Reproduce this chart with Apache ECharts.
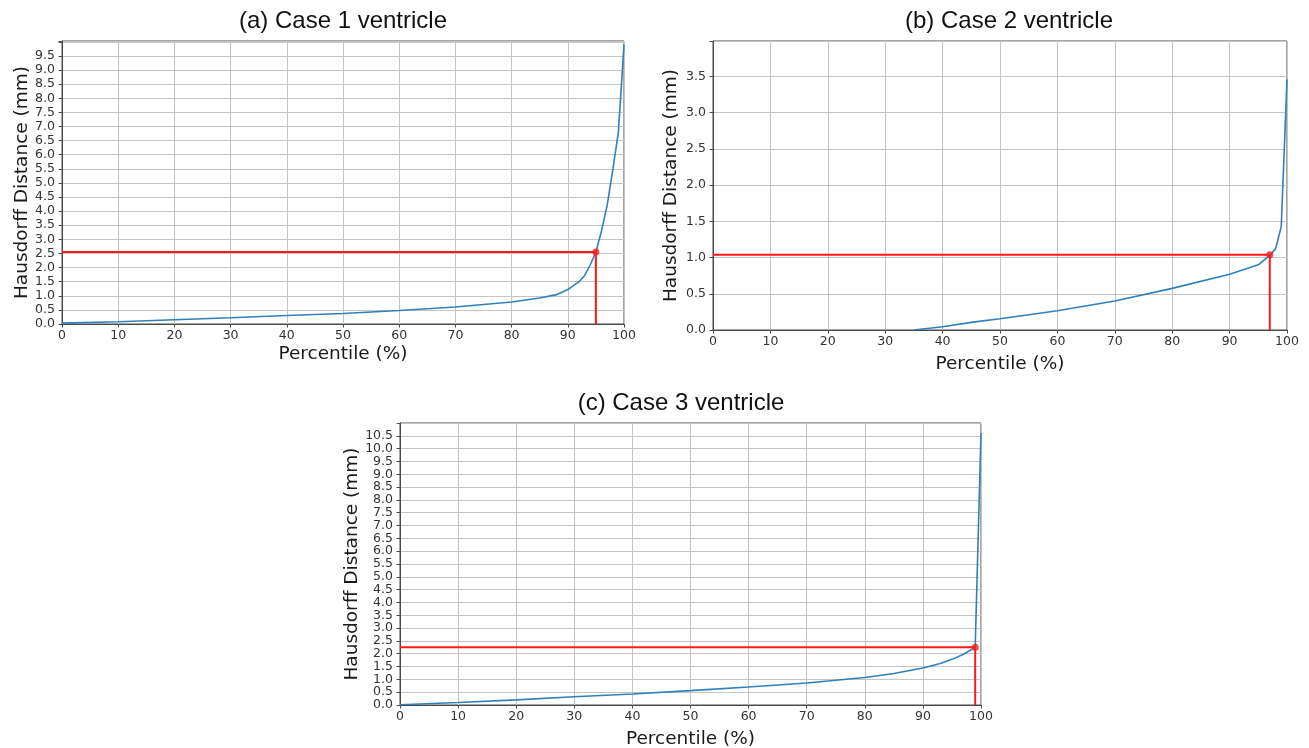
<!DOCTYPE html>
<html>
<head>
<meta charset="utf-8">
<script src="https://cdn.jsdelivr.net/npm/echarts@6/dist/echarts.min.js"></script>
<style>
html,body{margin:0;padding:0;background:#fff;}
#chart{width:1309px;height:748px;}
</style>
</head>
<body>
<div id="chart"></div>
<script>
// ---- Data ----
const titles = ['(a) Case 1 ventricle', '(b) Case 2 ventricle', '(c) Case 3 ventricle'];
const xName = 'Percentile (%)';
const yName = 'Hausdorff Distance (mm)';

const pctA = [0, 10, 20, 30, 40, 50, 60, 70, 80, 85, 88, 90, 92, 93, 94, 95, 96, 97, 98, 99, 100];
const hdA  = [0.03, 0.08, 0.15, 0.22, 0.3, 0.37, 0.48, 0.6, 0.78, 0.92, 1.04, 1.22, 1.5, 1.72, 2.1, 2.55, 3.3, 4.2, 5.45, 6.8, 9.9];

const pctB = [35, 40, 45, 50, 60, 70, 80, 90, 95, 97, 98, 98.5, 99, 100];
const hdB  = [0, 0.045, 0.105, 0.155, 0.265, 0.4, 0.575, 0.77, 0.9, 1.03, 1.12, 1.27, 1.43, 3.46];

const pctC = [0, 10, 20, 30, 40, 50, 60, 70, 80, 85, 90, 93, 95, 97, 99, 100];
const hdC  = [0.01, 0.1, 0.2, 0.32, 0.43, 0.56, 0.7, 0.86, 1.07, 1.23, 1.44, 1.62, 1.78, 1.98, 2.25, 10.6];

// threshold marker (percentile, distance) per case
const markPct = [95, 97, 99];
const markHd  = [2.55, 1.04, 2.25];

// y-axis extents and the highest labelled tick
const yMax = [10.03, 3.99, 11.0];
const yLabelMax = [9.5, 3.5, 10.5];

// ---- Layout ----
const grids = [
  {left: 62, top: 41, width: 562, height: 283},
  {left: 713, top: 41, width: 574, height: 289},
  {left: 400, top: 423, width: 581, height: 282}
];
const yNameGap = [27, 32, 38];
const xNameGap = [21, 25, 25];
const titleCenter = [343, 1009, 681];
const titleTop = [9, 9, 391];

const FONT = 'DejaVu Sans';
const curves = [[pctA, hdA], [pctB, hdB], [pctC, hdC]];

const option = {
  backgroundColor: '#fff',
  animation: false,
  title: grids.map((g, i) => ({
    text: titles[i],
    left: titleCenter[i],
    top: titleTop[i],
    padding: 0,
    textAlign: 'center',
    textStyle: {fontFamily: 'Liberation Sans', fontSize: 24, fontWeight: 'normal', color: '#111'}
  })),
  grid: grids.map(g => Object.assign({show: true, borderColor: '#4a4a4a', borderWidth: 1, backgroundColor: 'transparent', containLabel: false, outerBoundsMode: 'none'}, g)),
  xAxis: grids.map((g, i) => ({
    type: 'value', gridIndex: i, min: 0, max: 100, interval: 10,
    name: xName, nameLocation: 'middle', nameGap: xNameGap[i],
    nameTextStyle: {fontFamily: FONT, fontSize: 18.5, color: '#1a1a1a'},
    axisLine: {show: true, lineStyle: {color: '#4a4a4a', width: 1}},
    axisTick: {show: true, length: 3.5, lineStyle: {color: '#4a4a4a'}},
    axisLabel: {fontFamily: FONT, fontSize: 12.5, color: '#333', margin: 5, showMinLabel: true, showMaxLabel: true, hideOverlap: false},
    splitLine: {show: true, lineStyle: {color: '#c4c4c4', width: 1}}
  })),
  yAxis: grids.map((g, i) => ({
    type: 'value', gridIndex: i, min: 0, max: yMax[i], interval: 0.5,
    name: yName, nameLocation: 'middle', nameGap: yNameGap[i],
    nameTextStyle: {fontFamily: FONT, fontSize: 18.5, color: '#1a1a1a'},
    axisLine: {show: true, lineStyle: {color: '#4a4a4a', width: 1}},
    axisTick: {show: true, length: 3.5, lineStyle: {color: '#4a4a4a'}},
    axisLabel: {fontFamily: FONT, fontSize: 12.5, color: '#333', margin: 7, showMinLabel: true, hideOverlap: false,
      formatter: v => (v <= yLabelMax[i] + 1e-6 && Math.abs(v / 0.5 - Math.round(v / 0.5)) < 1e-6) ? v.toFixed(1) : ''},
    splitLine: {show: true, lineStyle: {color: '#c4c4c4', width: 1}}
  })),
  series: []
};

curves.forEach((c, i) => {
  option.series.push({
    type: 'line', xAxisIndex: i, yAxisIndex: i,
    data: c[0].map((x, k) => [x, c[1][k]]),
    showSymbol: false, smooth: false, clip: true,
    lineStyle: {color: '#2f80bd', width: 1.6},
    z: 3
  });
  option.series.push({
    type: 'line', xAxisIndex: i, yAxisIndex: i,
    data: [[0, markHd[i]], [markPct[i], markHd[i]], [markPct[i], 0]],
    showSymbol: false, smooth: false,
    lineStyle: {color: '#ff1a1a', width: 2},
    z: 2
  });
  option.series.push({
    type: 'scatter', xAxisIndex: i, yAxisIndex: i,
    data: [[markPct[i], markHd[i]]],
    symbolSize: 7,
    itemStyle: {color: '#ff1a1a'},
    z: 4
  });
});

const chart = echarts.init(document.getElementById('chart'), null, {renderer: 'canvas'});
chart.setOption(option);
</script>
</body>
</html>
